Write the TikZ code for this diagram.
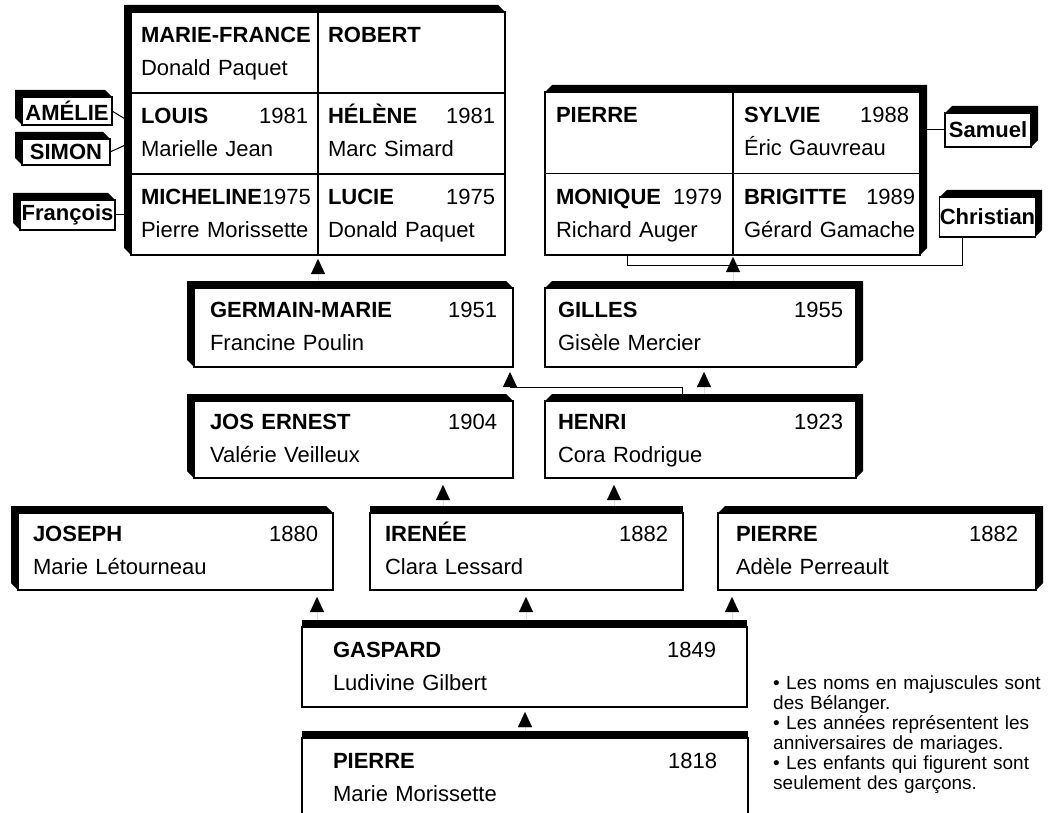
\documentclass[tikz,border=0pt]{standalone}
\usepackage{fontspec}
\setmainfont{Liberation Sans}
\usetikzlibrary{arrows.meta}

% one couple: name and year on the first line, spouse below
\newcommand\famtext[3]{\begin{tabular*}{\linewidth}{@{}l@{\extracolsep{\fill}}r@{}}\textbf{#1} & #2\\ \multicolumn{2}{@{}l@{}}{#3}\end{tabular*}}
% heavy edges: left+top, right+top, top only
\newcommand\bandL[1]{\fill (#1.south west) -- ++(-7,-7) -- ([shift={(-7,-7)}]#1.north west) -- ([shift={(-7,-7)}]#1.north east) -- (#1.north east) -- (#1.north west) -- cycle;}
\newcommand\bandR[1]{\fill (#1.north west) -- ++(7,-7) -- ([shift={(7,-7)}]#1.north east) -- ([shift={(7,-7)}]#1.south east) -- (#1.south east) -- (#1.north east) -- cycle;}
\newcommand\bandT[1]{\fill (#1.north west) -- ++(0,-7) -- ([shift={(0,-7)}]#1.north east) -- (#1.north east) -- cycle;}
\newcommand\kinarr[4]{\draw[kinarrow] ([yshift=7pt]#1.north -| #3,0) -- ([yshift=-#4pt]#2.south -| #3,0);}

\begin{document}
\begin{tikzpicture}[x=1pt, y=-1pt,
  famb/.style n args={3}{draw, line width=1.3pt, fill=white, outer sep=0pt, inner ysep=0pt,
    minimum width=#1pt, minimum height=#2pt, inner xsep=#3pt, text width={#1pt-2*#3pt},
    font=\fontsize{22}{33}\selectfont},
  kid/.style 2 args={draw, line width=1.3pt, fill=white, outer sep=0pt, inner sep=0pt,
    minimum width=#1pt, minimum height=#2pt, font=\fontsize{22}{26}\selectfont\bfseries},
  gridframe/.style 2 args={draw, line width=1.3pt, fill=white, outer sep=0pt, inner sep=0pt,
    minimum width=#1pt, minimum height=#2pt},
  kinarrow/.style={-{Triangle[length=15pt,width=14pt]}, line width=0.01pt},
  kinline/.style={line width=1pt},
  notes/.style={anchor=base west, inner sep=0pt, text width=285pt, align=left,
    font=\fontsize{19}{20}\selectfont},
]
\path[use as bounding box, fill=white] (0,0) rectangle (1052,813);

% ancestors
\node[famb={446}{80}{31}] (pierre1) at (525,778) {\famtext{PIERRE}{1818}{Marie Morissette}};
\node[famb={445}{80}{31}] (gaspard) at (524.5,667) {\famtext{GASPARD}{1849}{Ludivine Gilbert}};

\node[famb={315}{77}{15}] (joseph) at (175.5,551.5) {\famtext{JOSEPH}{1880}{Marie Létourneau}};
\node[famb={313}{77}{15}] (irenee) at (526.5,551.5) {\famtext{IRENÉE}{1882}{Clara Lessard}};
\node[famb={318}{77}{18}] (pierre2) at (877,551.5) {\famtext{PIERRE}{1882}{Adèle Perreault}};

\node[famb={319}{77}{16}] (jos)   at (353.5,439.5) {\famtext{JOS ERNEST}{1904}{Valérie Veilleux}};
\node[famb={311}{77}{13}] (henri) at (700.5,439.5) {\famtext{HENRI}{1923}{Cora Rodrigue}};

\node[famb={319}{79}{16}] (germain) at (353.5,327.5) {\famtext{GERMAIN-MARIE}{1951}{Francine Poulin}};
\node[famb={311}{79}{13}] (gilles)  at (700.5,327.5) {\famtext{GILLES}{1955}{Gisèle Mercier}};

% children of Germain-Marie
\node[gridframe={374}{243}] (tlgrid) at (318,133.5) {};
\node[famb={187}{81}{10}] (mfrance)   at (224.5,52.5)  {\famtext{MARIE-FRANCE}{}{Donald Paquet}};
\node[famb={187}{81}{10}] (robert)    at (411.5,52.5)  {\famtext{ROBERT}{}{}};
\node[famb={187}{81}{10}] (louis)     at (224.5,133.5) {\famtext{LOUIS}{1981}{Marielle Jean}};
\node[famb={187}{81}{10}] (helene)    at (411.5,133.5) {\famtext{HÉLÈNE}{1981}{Marc Simard}};
\node[famb={187}{81}{10}] (micheline) at (224.5,214.5) {\famtext{MICHELINE}{1975}{Pierre Morissette}};
\node[famb={187}{81}{10}] (lucie)     at (411.5,214.5) {\famtext{LUCIE}{1975}{Donald Paquet}};

% children of Gilles
\node[gridframe={375}{163}] (trgrid) at (732.5,173.5) {};
\node[famb={188}{81.5}{11}] (pierre3)  at (639,132.75)   {\famtext{PIERRE}{}{}};
\node[famb={187}{81.5}{11}] (sylvie)   at (826.5,132.75) {\famtext{SYLVIE}{1988}{Éric Gauvreau}};
\node[famb={188}{81.5}{11}] (monique)  at (639,214.25)   {\famtext{MONIQUE}{1979}{Richard Auger}};
\node[famb={187}{81.5}{11}] (brigitte) at (826.5,214.25) {\famtext{BRIGITTE}{1989}{Gérard Gamache}};

% grandchildren
\node[kid={90}{28}] (amelie)    at (67,111)    {AMÉLIE};
\node[kid={88}{26}] (simon)     at (66,152)    {SIMON};
\node[kid={95}{30}] (francois)  at (67.5,215)  {François};
\node[kid={86}{34}] (samuel)    at (988,130)   {Samuel};
\node[kid={91}{40}] (christian) at (987.5,217) {Christian};

\bandL{tlgrid} \bandL{amelie} \bandL{simon} \bandL{francois}
\bandR{trgrid} \bandR{samuel} \bandR{christian}
\bandL{germain} \bandR{gilles} \bandL{jos} \bandR{henri}
\bandL{joseph} \bandT{irenee} \bandR{pierre2}
\bandT{gaspard} \bandT{pierre1}

\kinarr{pierre1}{gaspard}{525}{5}
\kinarr{gaspard}{joseph}{317}{7}
\kinarr{gaspard}{irenee}{526}{7}
\kinarr{gaspard}{pierre2}{732}{7}
\kinarr{irenee}{jos}{443}{7}
\kinarr{irenee}{henri}{614}{7}
\kinarr{henri}{gilles}{704}{5}
\draw[kinarrow, line width=1pt] ([xshift=-18pt,yshift=7pt]henri.north) -- ++(0,-7)
  -| ([xshift=-3pt,yshift=-5pt]germain.south east);
\kinarr{germain}{tlgrid}{318}{4}
\kinarr{gilles}{trgrid}{733}{2}

\draw[kinline] (monique.south -| 627,0) -- ++(0,10) -| ([xshift=-25pt]christian.south);
\draw[kinline] (samuel.west) -- (samuel.west -| trgrid.east);
\draw[kinline] (amelie.east) -- ([yshift=11pt]louis.west);
\draw[kinline] (simon.east) -- ([yshift=-9pt]louis.west);
\draw[kinline] (francois.east) -- (francois.east -| tlgrid.west);

\node[notes] (notes) at (773,689) {• Les noms en majuscules sont\\ des Bélanger.\\
  • Les années représentent les\\ anniversaires de mariages.\\
  • Les enfants qui figurent sont\\ seulement des garçons.};
\end{tikzpicture}
\end{document}
